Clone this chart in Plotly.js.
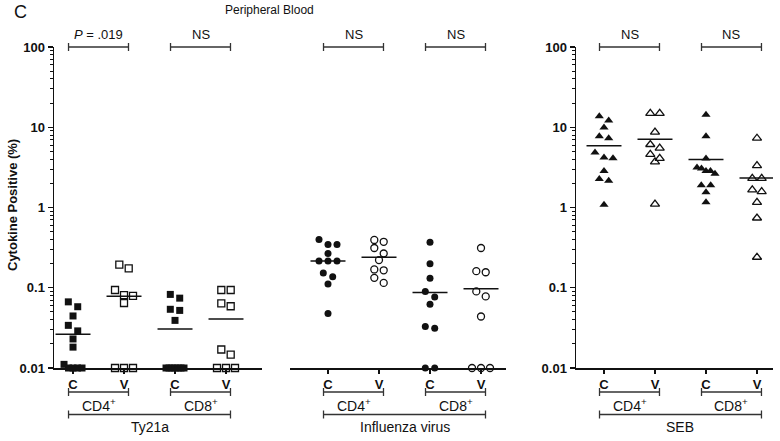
<!DOCTYPE html>
<html>
<head>
<meta charset="utf-8">
<script src="https://cdn.plot.ly/plotly-3.0.1.min.js"></script>
<style>
  html, body { margin: 0; padding: 0; background: #fff; }
  #chart { width: 780px; height: 441px; }
</style>
</head>
<body>
<div id="chart"></div>
<script>
// categories and labels
var tickText = ['C', 'V', 'C', 'V'];
var subsetLabels = ['CD4<sup>+</sup>', 'CD8<sup>+</sup>'];
var stimuli = ['Ty21a', 'Influenza virus', 'SEB'];
var pLabels = [['<i>P</i> = .019', 'NS'], ['NS', 'NS'], ['NS', 'NS']];

// cytokine positive (%); 0.01 = at the detection floor
var ty21aCD4C = [0.0667, 0.058, 0.0445, 0.034, 0.029, 0.023, 0.0182, 0.0111, 0.01, 0.01, 0.01, 0.01];
var ty21aCD4V = [0.194, 0.174, 0.0938, 0.0807, 0.079, 0.0646, 0.01, 0.01, 0.01];
var ty21aCD8C = [0.0826, 0.0742, 0.0539, 0.0522, 0.0392, 0.01, 0.01, 0.01, 0.01, 0.01, 0.01, 0.01];
var ty21aCD8V = [0.0938, 0.0938, 0.064, 0.0588, 0.017, 0.0147, 0.01, 0.01, 0.01];

var fluCD4C = [0.4, 0.347, 0.347, 0.267, 0.216, 0.216, 0.216, 0.153, 0.137, 0.111, 0.0478];
var fluCD4V = [0.394, 0.374, 0.313, 0.267, 0.221, 0.169, 0.165, 0.133, 0.115];
var fluCD8C = [0.37, 0.199, 0.131, 0.09, 0.0767, 0.0622, 0.033, 0.0313, 0.01, 0.01];
var fluCD8V = [0.313, 0.161, 0.156, 0.09, 0.078, 0.0438, 0.01, 0.01, 0.01];

var sebCD4C = [13.7, 12.1, 9.9, 7.7, 7.3, 4.85, 4.2, 4.1, 2.86, 2.26, 2.15, 1.08];
var sebCD4V = [14.9, 14.9, 8.7, 6.1, 5.5, 4.6, 4.1, 3.7, 1.1];
var sebCD8C = [14.3, 7.7, 4.08, 3.16, 3.07, 2.86, 2.86, 2.63, 1.9, 1.9, 1.55, 1.16];
var sebCD8V = [7.3, 3.33, 2.31, 2.31, 1.66, 1.58, 1.16, 0.74, 0.24];

// group means (horizontal bars)
var ty21aMeans = [0.0264, 0.0783, 0.0306, 0.0408];
var fluMeans = [0.216, 0.24, 0.087, 0.097];
var sebMeans = [5.9, 7.1, 3.96, 2.33];

var panelData = [
  [ty21aCD4C, ty21aCD4V, ty21aCD8C, ty21aCD8V],
  [fluCD4C, fluCD4V, fluCD8C, fluCD8V],
  [sebCD4C, sebCD4V, sebCD8C, sebCD8V]
];
var panelMeans = [ty21aMeans, fluMeans, sebMeans];
var symbols = ['square', 'circle', 'triangle-up'];

// geometry (pixels)
var W = 780, H = 441;
var yTopPx = 47, yBotPx = 368;
var yMin = -2, yMax = 2;
var pxPerDec = (yBotPx - yTopPx) / (yMax - yMin);
var panels = [
  {dom: [54, 262], range: [0.627, 4.706], yaxis: true},
  {dom: [290, 506], range: [0.255, 4.49], yaxis: false},
  {dom: [576, 773], range: [0.451, 4.314], yaxis: true}
];
var FONT = 'Liberation Sans, Arial, sans-serif';
var INK = '#111';
var BRACKET = '#333';

function py(px) { return 1 - px / H; }

// simple row-based swarm: points within a marker height share a row
function swarm(vals, pxPerUnit) {
  var idx = vals.map(function (v, i) { return i; })
    .sort(function (a, b) { return vals[b] - vals[a]; });
  var off = vals.map(function () { return 0; });
  var i = 0;
  while (i < idx.length) {
    var y0 = Math.log10(vals[idx[i]]) * pxPerDec;
    var j = i + 1;
    while (j < idx.length && y0 - Math.log10(vals[idx[j]]) * pxPerDec < 6.5) j++;
    var n = j - i;
    var s = n > 1 ? Math.min(9.4, 18 / (n - 1)) : 0;
    for (var k = 0; k < n; k++) off[idx[i + k]] = (k - (n - 1) / 2) * s / pxPerUnit;
    i = j;
  }
  return off;
}

var minorVals = [];
for (var d = -2; d <= 1; d++) {
  for (var m = 2; m <= 9; m++) minorVals.push(m * Math.pow(10, d));
}

var traces = [];
var shapes = [];
var annotations = [];
var layout = {
  width: W, height: H,
  margin: {l: 0, r: 0, t: 0, b: 0},
  showlegend: false,
  paper_bgcolor: '#fff',
  plot_bgcolor: '#fff',
  font: {family: FONT, color: INK}
};

function label(xref, x, yPx, text, size, extra) {
  var a = {xref: xref, yref: 'paper', x: x, y: py(yPx), text: text,
    xanchor: 'center', yanchor: 'middle', showarrow: false,
    font: {family: FONT, size: size, color: INK}};
  for (var k in extra) a[k] = extra[k];
  annotations.push(a);
}

panels.forEach(function (p, pi) {
  var sfx = pi === 0 ? '' : String(pi + 1);
  var xa = 'x' + sfx, ya = 'y' + sfx;
  var pxPerUnit = (p.dom[1] - p.dom[0]) / (p.range[1] - p.range[0]);

  layout['xaxis' + sfx] = {
    domain: [p.dom[0] / W, p.dom[1] / W],
    range: p.range,
    anchor: ya,
    showgrid: false, zeroline: false,
    showline: true, linecolor: INK, linewidth: 1.5,
    ticks: 'outside', ticklen: 4, tickwidth: 1.2, tickcolor: INK,
    tickmode: 'array', tickvals: [1, 2, 3, 4], ticktext: tickText,
    tickfont: {family: FONT, size: 13, color: INK, weight: 'bold'}
  };
  var yax = {
    domain: [py(yBotPx), py(yTopPx)],
    type: 'log',
    range: [yMin, yMax],
    anchor: xa,
    showgrid: false, zeroline: false
  };
  if (p.yaxis) {
    yax.showline = true; yax.linecolor = INK; yax.linewidth = 1.5;
    yax.ticks = 'outside'; yax.ticklen = 5; yax.tickwidth = 1.2; yax.tickcolor = INK;
    yax.tickmode = 'array';
    yax.tickvals = [0.01, 0.1, 1, 10, 100];
    yax.ticktext = ['0.01', '0.1', '1', '10', '100'];
    yax.tickfont = {family: FONT, size: 13, color: INK, weight: 'bold'};
    yax.minor = {ticks: 'outside', ticklen: 3, tickwidth: 1, tickcolor: INK,
      tickmode: 'array', tickvals: minorVals, showgrid: false};
  } else {
    yax.visible = false;
  }
  layout['yaxis' + sfx] = yax;

  // points
  panelData[pi].forEach(function (vals, gi) {
    var off = swarm(vals, pxPerUnit);
    var filled = gi % 2 === 0;
    traces.push({
      type: 'scatter', mode: 'markers',
      x: vals.map(function (v, i) { return gi + 1 + off[i]; }),
      y: vals,
      xaxis: xa, yaxis: ya,
      cliponaxis: false,
      marker: {
        symbol: symbols[pi] + (filled ? '' : '-open'),
        size: pi === 2 ? 8 : 7,
        color: INK,
        line: {color: INK, width: filled ? 0 : 1.3}
      }
    });
  });

  // mean bars
  var mx = [], my = [];
  panelMeans[pi].forEach(function (mv, gi) {
    mx.push(gi + 1 - 0.343, gi + 1 + 0.343, null);
    my.push(mv, mv, null);
  });
  traces.push({
    type: 'scatter', mode: 'lines', x: mx, y: my,
    xaxis: xa, yaxis: ya, cliponaxis: false,
    line: {color: INK, width: 1.5}
  });

  // brackets
  function bracket(x0, x1, yPx, h) {
    var ln = {color: BRACKET, width: 1.3};
    shapes.push({type: 'line', xref: xa, yref: 'paper', x0: x0, x1: x1, y0: py(yPx), y1: py(yPx), line: ln});
    shapes.push({type: 'line', xref: xa, yref: 'paper', x0: x0, x1: x0, y0: py(yPx - h), y1: py(yPx + h), line: ln});
    shapes.push({type: 'line', xref: xa, yref: 'paper', x0: x1, x1: x1, y0: py(yPx - h), y1: py(yPx + h), line: ln});
  }
  var pad = 0.088;
  [0, 1].forEach(function (k) {
    var c = 2 * k + 1, v = 2 * k + 2;
    bracket(c - pad, v + pad, 47, 4);
    label(xa, (c + v) / 2, 34, pLabels[pi][k], 13);
    bracket(c - pad, v + pad, 392, 4);
    label(xa, (c + v) / 2, 405, subsetLabels[k], 14);
  });
  bracket(1 - pad, 4 + pad, 414.5, 4);
  label(xa, 2.5, 427, stimuli[pi], 14);
});

label('paper', 20 / W, 12, 'C', 18);
label('paper', 269 / W, 10, 'Peripheral Blood', 12);
label('paper', 12 / W, 205, 'Cytokine Positive (%)', 13,
  {textangle: -90, font: {family: FONT, size: 13, color: INK, weight: 'bold'}});

layout.shapes = shapes;
layout.annotations = annotations;

Plotly.newPlot('chart', traces, layout, {displayModeBar: false, staticPlot: true});
</script>
</body>
</html>
